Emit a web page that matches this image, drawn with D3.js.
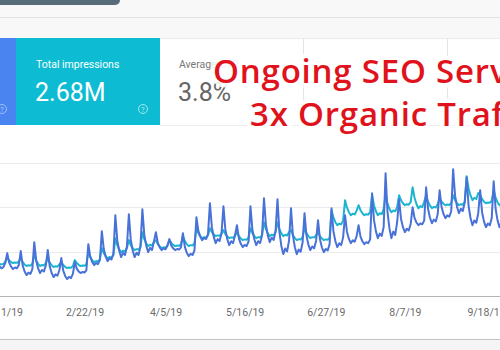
<!DOCTYPE html>
<html>
<head>
<meta charset="utf-8">
<script src="https://cdn.jsdelivr.net/npm/d3@7"></script>
<style>
  body { margin: 0; background: #fff; }
  svg { display: block; }
</style>
</head>
<body>
<div id="chart"></div>
<script>
// daily values, starting 2019-01-08 (rows = lead-in, then one week from each spike)
const startDate = "2019-01-08";

const clicks = [
  300, 270, 250, 260, 300,
  387, 301, 265, 243, 257, 250, 279,
  405, 275, 221, 189, 211, 200, 243,
  486, 319, 249, 207, 235, 221, 277,
  414, 268, 207, 171, 195, 183, 232,
  342, 229, 181, 153, 172, 162, 200,
  306, 247, 222, 207, 217, 212, 232,
  468, 355, 307, 279, 298, 288, 326,
  585, 423, 356, 315, 342, 329, 383,
  729, 502, 408, 351, 389, 370, 446,
  738, 506, 409, 351, 390, 370, 448,
  783, 551, 454, 396, 435, 415, 493,
  576, 479, 438, 414, 430, 422, 455,
  513, 454, 429, 414, 424, 419, 439,
  567, 443, 391, 360, 381, 370, 412,
  711, 587, 535, 504, 525, 514, 556,
  837, 621, 531, 477, 513, 495, 567,
  810, 599, 512, 459, 494, 477, 547,
  639, 520, 471, 441, 461, 451, 491,
  810, 599, 512, 459, 494, 477, 547,
  882, 644, 545, 486, 526, 506, 585,
  873, 576, 452, 378, 428, 403, 502,
  792, 544, 440, 378, 419, 399, 482,
  747, 547, 464, 414, 447, 431, 497,
  684, 511, 439, 396, 425, 410, 468,
  792, 581, 494, 441, 476, 459, 529,
  729, 578, 515, 477, 502, 490, 540,
  639, 536, 494, 468, 485, 477, 511,
  927, 684, 583, 522, 563, 542, 623,
  1107, 756, 610, 522, 581, 551, 668,
  873, 695, 621, 576, 606, 591, 650,
  801, 704, 663, 639, 655, 647, 680,
  981, 787, 706, 657, 689, 673, 738,
  954, 803, 740, 702, 727, 715, 765,
  1143, 905, 806, 747, 787, 767, 846,
  1071, 812, 704, 639, 682, 661, 747,
  954, 754, 671, 621, 654, 638, 704,
  1035, 787, 683, 621, 662
];

const impressions = [
  300, 290, 285, 290, 310,
  342, 320, 306, 297, 302, 299, 311,
  342, 306, 284, 270, 277, 274, 292,
  369, 320, 290, 270, 280, 275, 300,
  342, 302, 277, 261, 269, 265, 285,
  306, 279, 263, 252, 257, 255, 268,
  324, 297, 281, 270, 275, 273, 286,
  396, 351, 324, 306, 315, 311, 333,
  432, 387, 360, 342, 351, 347, 369,
  522, 459, 421, 396, 409, 402, 434,
  504, 459, 432, 414, 423, 419, 441,
  576, 513, 475, 450, 463, 456, 488,
  504, 468, 446, 432, 439, 436, 454,
  504, 477, 461, 450, 455, 453, 466,
  540, 495, 468, 450, 459, 455, 477,
  612, 567, 540, 522, 531, 527, 549,
  612, 576, 554, 540, 547, 544, 562,
  594, 558, 536, 522, 529, 526, 544,
  576, 540, 518, 504, 511, 508, 526,
  612, 567, 540, 522, 531, 527, 549,
  666, 603, 565, 540, 553, 546, 578,
  666, 603, 565, 540, 553, 546, 578,
  594, 549, 522, 504, 513, 509, 531,
  612, 567, 540, 522, 531, 527, 549,
  576, 540, 518, 504, 511, 508, 526,
  774, 707, 666, 639, 653, 646, 680,
  864, 797, 756, 729, 743, 736, 770,
  819, 774, 747, 729, 738, 734, 756,
  909, 819, 765, 729, 747, 738, 783,
  909, 833, 787, 756, 771, 764, 802,
  909, 864, 837, 819, 828, 824, 846,
  981, 887, 830, 792, 811, 801, 849,
  909, 851, 815, 792, 804, 798, 827,
  882, 851, 832, 819, 825, 822, 838,
  909, 864, 837, 819, 828, 824, 846,
  1080, 972, 907, 864, 886, 875, 929,
  909, 873, 851, 837, 844, 841, 859,
  954, 887, 846, 819, 833
];

const tickDates = ["2019-01-11", "2019-02-22", "2019-04-05", "2019-05-16", "2019-06-27", "2019-08-07", "2019-09-18"];
const gridValues = [0, 400, 800, 1200];

const titleLines = ["Ongoing SEO Services", "3x Organic Traffic"];

//dims
const width = 500, height = 350;

const svg = d3.select("#chart")
  .append("svg")
  .attr("width", width)
  .attr("height", height)
  .style("font-family", "Roboto, sans-serif");

const parse = d3.utcParse("%Y-%m-%d");
const start = parse(startDate);
const days = d => d3.utcDay.offset(start, d);

//top bar
svg.append("rect").attr("x", 0).attr("y", 0).attr("width", width).attr("height", 38).attr("fill", "#f8f8f8");
svg.append("line").attr("x1", 0).attr("x2", width).attr("y1", 17.5).attr("y2", 17.5).attr("stroke", "#e2e2e2");
svg.append("path")
  .attr("d", "M0,0 H120 V0 Q120,5 114,5 H0 Z")
  .attr("fill", "#566d79");

//cards
svg.append("rect").attr("x", 0).attr("y", 38).attr("width", 16).attr("height", 87).attr("fill", "#4a84f0");
svg.append("rect").attr("x", 16).attr("y", 38).attr("width", 144).attr("height", 87).attr("fill", "#0dbcd3");
svg.append("line").attr("x1", 160).attr("x2", width).attr("y1", 38.5).attr("y2", 38.5).attr("stroke", "#ececec");
svg.append("line").attr("x1", 160).attr("x2", width).attr("y1", 125.5).attr("y2", 125.5).attr("stroke", "#ededed");
[303.5, 447.5].forEach(x => {
  svg.append("line").attr("x1", x).attr("x2", x).attr("y1", 38).attr("y2", 125).attr("stroke", "#e4e4e4");
});

svg.append("text").attr("x", 36).attr("y", 67.5).attr("fill", "#fff").attr("font-size", 10.5).text("Total impressions");
svg.append("text").attr("x", 35).attr("y", 100.5).attr("fill", "#fff").attr("font-size", 25).text("2.68M");
svg.append("text").attr("x", 179).attr("y", 67.5).attr("fill", "#777").attr("font-size", 10.5).text("Average CTR");
svg.append("text").attr("x", 178).attr("y", 100.5).attr("fill", "#666").attr("font-size", 25).text("3.8%");

[[2, "#a9c6f8"], [143, "#b5ecf3"]].forEach(([cx, c]) => {
  svg.append("circle").attr("cx", cx).attr("cy", 109).attr("r", 4.5).attr("fill", "none").attr("stroke", c).attr("stroke-width", 0.9);
  svg.append("text").attr("x", cx).attr("y", 111.5).attr("text-anchor", "middle").attr("fill", c).attr("font-size", 7).text("?");
});

//scales
const x = d3.scaleUtc()
  .domain([start, days(clicks.length - 1)])
  .range([-2.4, 501.4]);

const y = d3.scaleLinear()
  .domain([0, 1200])
  .range([296, 163]);

//grid
svg.append("g")
  .selectAll("line")
  .data(gridValues)
  .join("line")
  .attr("x1", 0).attr("x2", width)
  .attr("y1", d => Math.round(y(d)) + 0.5)
  .attr("y2", d => Math.round(y(d)) + 0.5)
  .attr("stroke", d => d === 0 ? "#b4b4b4" : "#ebebeb");

//x axis
svg.append("g")
  .attr("transform", "translate(0,296)")
  .call(d3.axisBottom(x)
    .tickValues(tickDates.map(parse))
    .tickFormat(d3.utcFormat("%-m/%-d/%y"))
    .tickSize(0)
    .tickPadding(13))
  .call(g => g.select(".domain").remove())
  .selectAll("text")
  .attr("fill", "#6b6b6b")
  .style("font-size", "10.5px")
  .style("font-family", "Roboto, sans-serif");

//bottom border
svg.append("rect").attr("x", 0).attr("y", 339).attr("width", width).attr("height", 11).attr("fill", "#f5f5f5");
svg.append("line").attr("x1", 0).attr("x2", width).attr("y1", 339.5).attr("y2", 339.5).attr("stroke", "#c4c4c4");

//lines
const line = d3.line()
  .x((d, i) => x(days(i)))
  .y(d => y(d));

svg.append("path")
  .datum(impressions)
  .attr("fill", "none")
  .attr("stroke", "#1cb5cf")
  .attr("stroke-width", 2)
  .attr("stroke-linejoin", "round")
  .attr("d", line);

svg.append("path")
  .datum(clicks)
  .attr("fill", "none")
  .attr("stroke", "#4872d8")
  .attr("stroke-width", 2)
  .attr("stroke-linejoin", "round")
  .attr("d", line);

//red title
svg.append("g")
  .selectAll("text")
  .data(titleLines)
  .join("text")
  .attr("x", (d, i) => i === 0 ? 213 : 250)
  .attr("y", (d, i) => i === 0 ? 83 : 126)
  .attr("fill", "#e0121b")
  .attr("stroke", "rgba(255,255,255,0.9)")
  .attr("stroke-width", 9)
  .attr("stroke-linejoin", "round")
  .attr("paint-order", "stroke")
  .style("font-family", "'Open Sans', sans-serif")
  .style("font-weight", 600)
  .style("font-size", "33px")
  .style("letter-spacing", "0.8px")
  .text(d => d);
</script>
</body>
</html>
